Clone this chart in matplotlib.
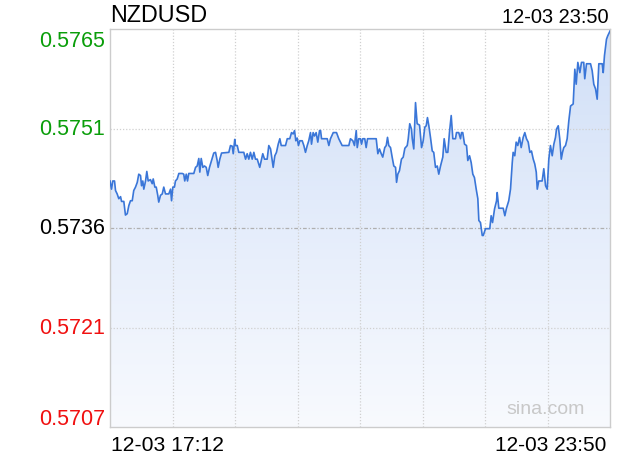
import matplotlib
matplotlib.use("Agg")
import matplotlib.pyplot as plt
import numpy as np
from matplotlib.colors import LinearSegmentedColormap
import matplotlib.transforms as mtransforms

plt.rcParams['font.family'] = ['Liberation Sans', 'DejaVu Sans']

symbol = "NZDUSD"
start_label = "12-03 17:12"
end_label = "12-03 23:50"
watermark = "sina.com"
prev_close = 0.5736
half_range = 0.00292
ytick_labels = ["0.5765", "0.5751", "0.5736", "0.5721", "0.5707"]
total_minutes = 398

# minutes since 17:12
minutes = [0.0, 1.2, 2.2, 3.6, 4.4, 5.7, 7.0, 8.4, 9.2, 11.0, 12.3, 13.7, 15.0, 16.3, 17.7, 18.9,
           20.3, 21.7, 22.9, 24.3, 25.1, 26.1, 26.9, 28.3, 29.3, 30.4, 32.2, 33.6, 34.4, 35.7, 36.8,
           38.0, 38.8, 40.2, 41.6, 42.8, 44.2, 46.8, 48.2, 49.0, 50.0, 51.3, 52.1, 53.5, 54.8, 57.5,
           58.7, 59.5, 60.7, 61.7, 62.7, 66.7, 68.1, 69.4, 70.7, 71.5, 72.6, 73.9, 75.2, 76.6, 77.8,
           79.2, 80.8, 82.6, 84.0, 85.3, 86.1, 87.4, 88.8, 94.6, 95.9, 97.3, 98.1, 99.3, 99.9, 101.3,
           102.5, 106.5, 107.9, 109.2, 110.5, 111.8, 113.2, 114.5, 115.8, 117.2, 119.2, 120.4, 121.6,
           123.0, 125.1, 126.4, 127.8, 129.1, 129.9, 131.2, 132.5, 133.9, 135.2, 136.3, 139.7, 141.1,
           143.1, 144.5, 145.8, 146.9, 147.9, 149.0, 150.0, 151.1, 153.0, 154.3, 155.6, 157.0, 158.2,
           159.6, 160.4, 161.7, 162.8, 164.1, 165.4, 166.8, 167.6, 168.4, 172.9, 174.2, 175.5, 177.7,
           180.3, 182.1, 184.8, 190.1, 191.4, 193.3, 194.6, 196.0, 196.8, 198.0, 199.4, 200.2, 201.2,
           202.8, 203.9, 205.0, 211.9, 213.2, 214.5, 215.9, 217.1, 218.7, 219.9, 220.9, 221.9, 223.3,
           224.6, 225.9, 227.3, 228.1, 229.1, 230.4, 232.0, 233.4, 234.7, 236.6, 237.4, 238.6, 240.0,
           240.6, 241.8, 243.2, 244.5, 246.4, 248.0, 249.3, 250.6, 251.7, 252.7, 253.8, 255.1, 256.5,
           257.7, 259.1, 260.5, 261.7, 263.1, 264.9, 266.0, 267.6, 268.9, 270.2, 271.6, 272.9, 275.0,
           275.8, 277.6, 279.0, 279.8, 280.8, 282.2, 283.8, 284.8, 286.2, 287.5, 288.8, 290.1, 291.5,
           292.8, 293.6, 294.9, 296.3, 297.1, 298.9, 302.3, 303.4, 304.5, 306.1, 307.7, 308.2, 309.5,
           313.0, 314.3, 315.6, 317.4, 318.8, 320.2, 320.9, 322.2, 323.3, 324.6, 326.0, 327.3, 328.9,
           330.2, 331.5, 332.9, 334.2, 335.5, 336.9, 338.1, 339.3, 340.1, 341.3, 344.0, 345.3, 346.7,
           348.0, 349.3, 350.6, 352.0, 353.3, 354.6, 355.4, 356.8, 358.0, 359.2, 360.2, 361.2, 362.6,
           363.9, 365.2, 366.6, 368.7, 370.0, 371.1, 372.4, 374.0, 375.3, 377.1, 377.9, 379.3, 382.5,
           383.8, 385.1, 386.5, 387.8, 389.1, 391.8, 392.6, 393.6, 395.2, 396.2, 398.0]

prices = [0.57429, 0.57417, 0.57429, 0.57429, 0.57415, 0.57410, 0.57403, 0.57406, 0.57399, 0.57399,
          0.57379, 0.57381, 0.57393, 0.57400, 0.57400, 0.57415, 0.57420, 0.57427, 0.57439, 0.57437,
          0.57422, 0.57429, 0.57417, 0.57429, 0.57443, 0.57429, 0.57431, 0.57425, 0.57432, 0.57420,
          0.57420, 0.57408, 0.57398, 0.57408, 0.57410, 0.57420, 0.57410, 0.57410, 0.57417, 0.57400,
          0.57420, 0.57420, 0.57429, 0.57432, 0.57440, 0.57440, 0.57439, 0.57429, 0.57439, 0.57429,
          0.57440, 0.57440, 0.57449, 0.57451, 0.57462, 0.57442, 0.57462, 0.57449, 0.57451, 0.57449,
          0.57437, 0.57449, 0.57459, 0.57470, 0.57471, 0.57459, 0.57449, 0.57461, 0.57470, 0.57471,
          0.57481, 0.57480, 0.57469, 0.57490, 0.57481, 0.57481, 0.57471, 0.57471, 0.57461, 0.57469,
          0.57461, 0.57471, 0.57461, 0.57471, 0.57461, 0.57461, 0.57449, 0.57459, 0.57469, 0.57461,
          0.57461, 0.57481, 0.57476, 0.57459, 0.57449, 0.57466, 0.57471, 0.57483, 0.57491, 0.57481,
          0.57481, 0.57491, 0.57491, 0.57500, 0.57498, 0.57503, 0.57488, 0.57492, 0.57481, 0.57488,
          0.57488, 0.57481, 0.57471, 0.57481, 0.57488, 0.57500, 0.57483, 0.57500, 0.57495, 0.57500,
          0.57486, 0.57503, 0.57503, 0.57491, 0.57491, 0.57481, 0.57491, 0.57500, 0.57500, 0.57491,
          0.57481, 0.57481, 0.57491, 0.57488, 0.57481, 0.57503, 0.57478, 0.57491, 0.57491, 0.57483,
          0.57491, 0.57491, 0.57478, 0.57491, 0.57491, 0.57469, 0.57476, 0.57469, 0.57464, 0.57478,
          0.57481, 0.57493, 0.57481, 0.57478, 0.57464, 0.57451, 0.57449, 0.57427, 0.57439, 0.57444,
          0.57461, 0.57464, 0.57477, 0.57481, 0.57491, 0.57513, 0.57505, 0.57491, 0.57476, 0.57544,
          0.57513, 0.57511, 0.57478, 0.57488, 0.57508, 0.57510, 0.57522, 0.57510, 0.57493, 0.57473,
          0.57471, 0.57449, 0.57451, 0.57439, 0.57451, 0.57464, 0.57491, 0.57471, 0.57471, 0.57500,
          0.57525, 0.57491, 0.57491, 0.57500, 0.57500, 0.57491, 0.57500, 0.57500, 0.57483, 0.57481,
          0.57459, 0.57466, 0.57456, 0.57439, 0.57434, 0.57417, 0.57403, 0.57371, 0.57368, 0.57349,
          0.57349, 0.57359, 0.57359, 0.57378, 0.57368, 0.57388, 0.57400, 0.57412, 0.57389, 0.57389,
          0.57378, 0.57389, 0.57400, 0.57417, 0.57456, 0.57471, 0.57466, 0.57486, 0.57481, 0.57493,
          0.57478, 0.57493, 0.57500, 0.57491, 0.57486, 0.57471, 0.57473, 0.57461, 0.57454, 0.57442,
          0.57417, 0.57429, 0.57429, 0.57447, 0.57422, 0.57417, 0.57461, 0.57481, 0.57466, 0.57483,
          0.57493, 0.57505, 0.57510, 0.57491, 0.57461, 0.57471, 0.57478, 0.57481, 0.57491, 0.57517,
          0.57539, 0.57542, 0.57593, 0.57571, 0.57603, 0.57588, 0.57603, 0.57603, 0.57579, 0.57601,
          0.57601, 0.57591, 0.57571, 0.57564, 0.57549, 0.57601, 0.57601, 0.57588, 0.57613, 0.57637,
          0.57642, 0.57649]

W, H = 620, 460
fig = plt.figure(figsize=(W / 100, H / 100), dpi=100)
ax = fig.add_axes([110 / W, 32 / H, 500 / W, 398 / H])

ylo, yhi = prev_close - half_range, prev_close + half_range
ax.set_xlim(0, total_minutes)
ax.set_ylim(ylo, yhi)

x = np.array(minutes)
y = np.array(prices)

# gradient fill under the line
cmap = LinearSegmentedColormap.from_list("g", ["#f8fafe", "#e5edfb", "#d0dff7"])
grad = np.linspace(0, 1, 256).reshape(-1, 1)
im = ax.imshow(grad, cmap=cmap, origin="lower", aspect="auto",
               extent=(0, total_minutes, ylo, yhi), zorder=1)
poly = ax.fill_between(x, y, ylo, color="none", lw=0)
clip_path = poly.get_paths()[0]
im.set_clip_path(clip_path, ax.transData)

# grid
for k in range(1, 8):
    ax.axvline(total_minutes * k / 8, color="#d0d0d0", lw=0.9, ls=(0, (1, 1.5)), zorder=2)
tick_vals = [yhi, prev_close + half_range / 2, prev_close, prev_close - half_range / 2, ylo]
ax.axhline(tick_vals[1], color="#d0d0d0", lw=0.9, ls=(0, (1, 1.5)), zorder=2)
ax.axhline(tick_vals[3], color="#d0d0d0", lw=0.9, ls=(0, (1, 1.5)), zorder=2)
ax.axhline(prev_close, color="#b0b0b0", lw=0.9, ls=(0, (3, 1.5, 1, 1.5)), zorder=2)

ax.plot(x, y, color="#3a76d8", lw=1.2, zorder=3)

ax.set_xticks([])
ax.set_yticks([])
for s in ax.spines.values():
    s.set_color("#cccccc")
    s.set_linewidth(1)

# y labels
colors = ["#0a9e0a", "#0a9e0a", "#000000", "#f01010", "#f01010"]
trans = mtransforms.blended_transform_factory(ax.transAxes, ax.transData)
off = mtransforms.ScaledTranslation
fs_y = 15.5
for i, (v, lab, c) in enumerate(zip(tick_vals, ytick_labels, colors)):
    if i == 0:
        t = trans + off(0, -1.5 / 100, fig.dpi_scale_trans)
        ax.text(-0.01, v, lab, transform=t, ha="right", va="top", color=c, fontsize=fs_y)
    elif i == 4:
        t = trans + off(0, 3 / 100, fig.dpi_scale_trans)
        ax.text(-0.01, v, lab, transform=t, ha="right", va="baseline", color=c, fontsize=fs_y)
    else:
        ax.text(-0.01, v, lab, transform=trans, ha="right", va="center", color=c, fontsize=fs_y)

fig.text(110 / W, 1 - 16 / H, symbol, ha="left", va="center", fontsize=16.8, color="#000000")
fig.text(609 / W, 1 - 17.5 / H, end_label, ha="right", va="center", fontsize=14.4, color="#000000")
fig.text(111 / W, 1 - 446 / H, start_label, ha="left", va="center", fontsize=15.2, color="#000000")
fig.text(606 / W, 1 - 446 / H, end_label, ha="right", va="center", fontsize=15.0, color="#000000")
ax.text(0.95, 0.035, watermark, transform=ax.transAxes, ha="right", va="baseline",
        fontsize=14, color="#c8c8c8", zorder=4)

fig.savefig("out.png", dpi=100, facecolor="white")
